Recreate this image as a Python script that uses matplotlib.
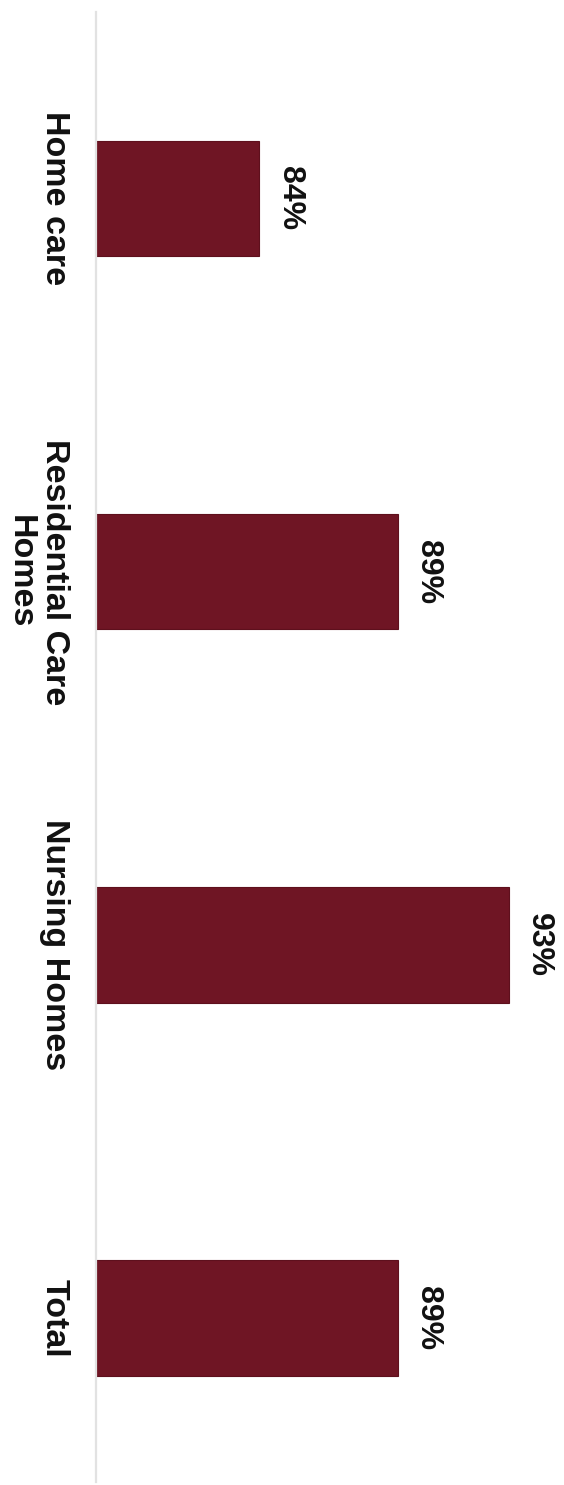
import matplotlib.pyplot as plt
import numpy as np

# share of respondents by care setting
categories = ["Home care", "Residential Care\nHomes", "Nursing Homes", "Total"]
values = np.array([84, 89, 93, 89])
labels = ["84%", "89%", "93%", "89%"]

plt.rcParams['font.family'] = ['Liberation Sans', 'DejaVu Sans']

fig = plt.figure(figsize=(5.64, 14.85), dpi=100)
ax = fig.add_axes([96 / 564, 3 / 1485, 1 - 96 / 564, 1 - 15 / 1485])

pos = np.arange(len(categories))
ax.barh(pos, values - 78.1, left=78.1, height=0.31, color="#6f1524",
        edgecolor="#5e101d", linewidth=0.8)

ax.set_xlim(78.1, 95)
ax.set_ylim(3.44, -0.5)

# value labels, turned to read top to bottom
for p, v, t in zip(pos, values, labels):
    ax.annotate(t, (v, p), xytext=(11, 0), textcoords="offset points",
                rotation=-90, ha="left", va="center",
                fontsize=23, fontweight="bold", color="#111111")

ax.set_yticks(pos)
ax.set_yticklabels(categories, rotation=-90, fontsize=24.5, fontweight="bold",
                   va="center", ha="right", multialignment="center",
                   color="#111111", linespacing=1.1)
ax.tick_params(axis="y", length=0, pad=19)
ax.set_xticks([])

for s in ["top", "right", "bottom"]:
    ax.spines[s].set_visible(False)
ax.spines["left"].set_color("#e2e2e2")
ax.spines["left"].set_linewidth(1.6)

plt.savefig("out.png", dpi=100)
